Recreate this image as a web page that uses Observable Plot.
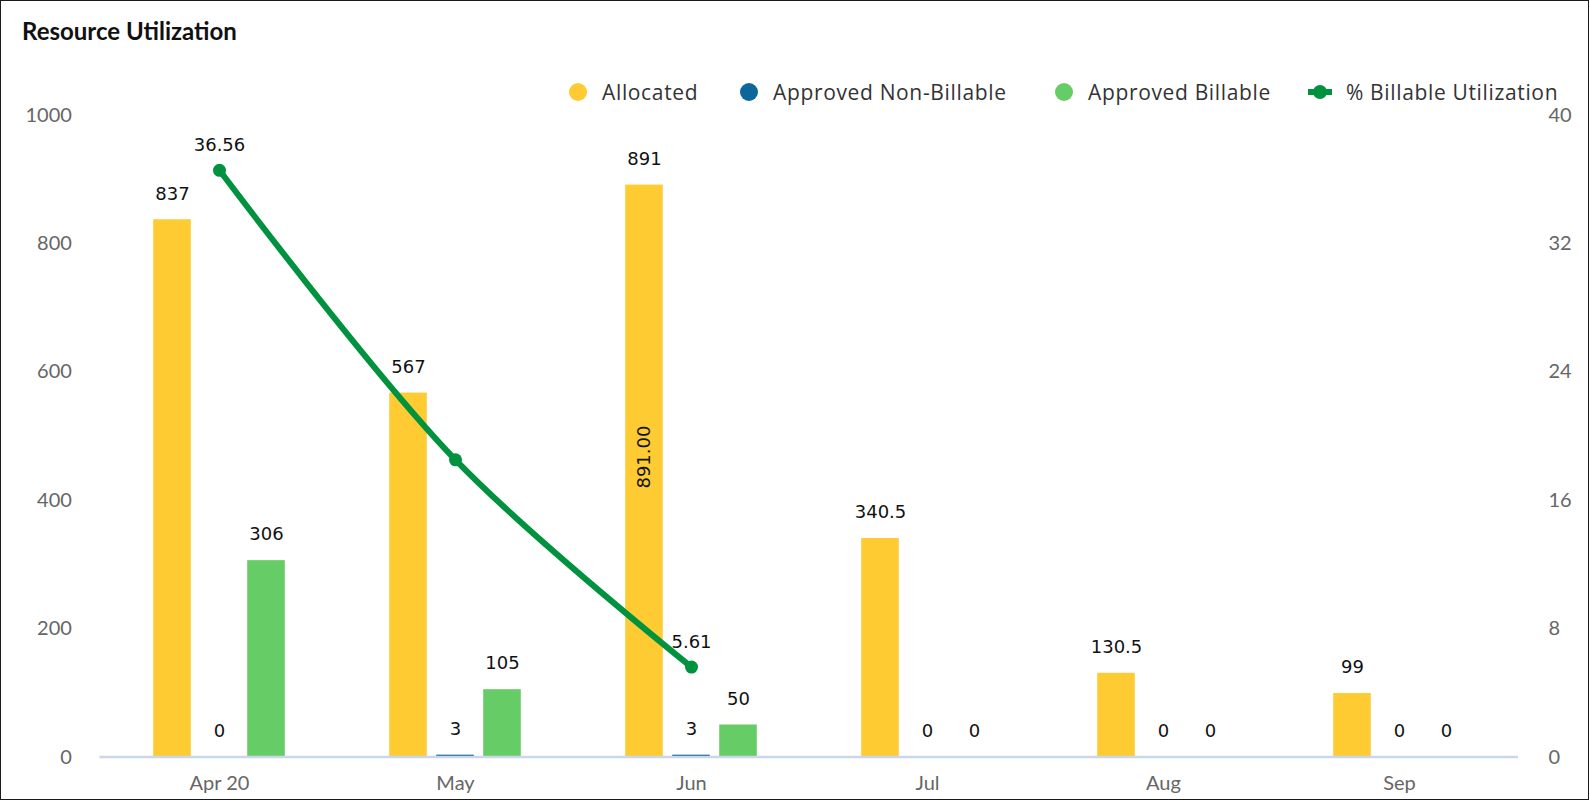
<!DOCTYPE html>
<html>
<head>
<meta charset="utf-8">
<script src="https://cdn.jsdelivr.net/npm/d3@7"></script>
<script src="https://cdn.jsdelivr.net/npm/@observablehq/plot@0.6"></script>
<style>
  body { margin: 0; background: #fff; }
  #card { position: relative; width: 1590px; height: 802px; overflow: hidden; background: #fff; }
  #frame { position: absolute; left: 0; top: 0; width: 1589px; height: 800px; border: 1px solid #1a1a1a; box-sizing: border-box; pointer-events: none; }
  #title { position: absolute; left: 22px; top: 16px; font: bold 24px Lato, sans-serif; color: #111; }
  .item { position: absolute; top: 80px; height: 24px; display: flex; align-items: center; font: 21px "Open Sans", sans-serif; line-height: 1; letter-spacing: 0.65px; color: #333; white-space: nowrap; }
  .item span { line-height: 1; }
  .sw { width: 18px; height: 18px; border-radius: 50%; margin-right: 15px; }
  .lsym { position: relative; width: 24px; height: 18px; margin-right: 14px; }
  .lsym .bar { position: absolute; left: 0; top: 6px; width: 24px; height: 6px; }
  .lsym .dot { position: absolute; left: 5px; top: 2px; width: 14px; height: 14px; border-radius: 50%; }
  #chart { position: absolute; left: 0; top: 0; width: 1590px; }
</style>
</head>
<body>
<div id="card">
  <div id="chart"></div>
  <div id="title">Resource Utilization</div>
  <div id="legend"></div>
  <div id="frame"></div>
</div>
<script>
// ---- data ----
const months = ["Apr 20", "May", "Jun", "Jul", "Aug", "Sep"];
const allocated = [837, 567, 891, 340.5, 130.5, 99];
const approvedNonBillable = [0, 3, 3, 0, 0, 0];
const approvedBillable = [306, 105, 50, 0, 0, 0];
const utilMonths = ["Apr 20", "May", "Jun"];
const billableUtilization = [36.56, 18.52, 5.61];
const hiddenUtilLabels = ["May"];
const insideLabelMonths = ["Jun"];
const leftTicks = [0, 200, 400, 600, 800, 1000];
const rightTicks = [0, 8, 16, 24, 32, 40];
const seriesNames = ["Allocated", "Approved Non-Billable", "Approved Billable", "% Billable Utilization"];
const seriesColors = ["#fecb33", "#0d6699", "#66cc66", "#00923f"];

// ---- layout ----
const W = 1590, H = 802;
const mL = 99.4, mR = 72, mT = 114.6, mB = 45.4;
const bw = (W - mL - mR) / months.length;
const barW = 38;
const inset = (bw - barW) / 2;
const offsets = [-47, 0, 47];
const ratio = leftTicks[leftTicks.length - 1] / rightTicks[rightTicks.length - 1];

const barSeries = [allocated, approvedNonBillable, approvedBillable];
const barData = barSeries.map((vals, i) =>
  months.map((m, j) => ({month: m, series: seriesNames[i], value: vals[j]})));
const utilData = utilMonths.map((m, j) => ({month: m, pct: billableUtilization[j]}));
const insideData = insideLabelMonths.map(m => ({month: m, value: allocated[months.indexOf(m)]}));

const fmt = v => String(v);
const labelFont = {fontFamily: "DejaVu Sans", fontSize: 18, fill: "#111"};
const tickFont = {fontFamily: "Lato", fontSize: 20, fill: "#666"};
const marks = [];
barData.forEach((rows, i) => {
  marks.push(Plot.barY(rows, {x: "month", y: "value", fill: seriesColors[i], insetLeft: inset, insetRight: inset, dx: offsets[i]}));
});
marks.push(Plot.ruleY([0], {stroke: "#ccd6eb", strokeWidth: 2.5}));
barData.forEach((rows, i) => {
  marks.push(Plot.text(rows, {x: "month", y: "value", text: d => fmt(d.value), dx: offsets[i], dy: -26, ...labelFont}));
});
marks.push(Plot.text(insideData, {x: "month", y: d => d.value / 2, text: d => d.value.toFixed(2), dx: offsets[0], dy: -14,
  rotate: -90, ...labelFont}));
marks.push(Plot.line(utilData, {x: "month", y: d => d.pct * ratio, stroke: seriesColors[3], strokeWidth: 6, curve: "catmull-rom"}));
marks.push(Plot.dot(utilData, {x: "month", y: d => d.pct * ratio, r: 6.5, fill: seriesColors[3]}));
marks.push(Plot.text(utilData.filter(d => !hiddenUtilLabels.includes(d.month)), {x: "month", y: d => d.pct * ratio,
  text: d => d.pct.toFixed(2), dy: -25, ...labelFont}));
marks.push(Plot.axisY({anchor: "left", ticks: leftTicks, tickFormat: d => String(d), tickSize: 0, tickPadding: 28,
  textAnchor: "end", ...tickFont, label: null}));
// right-hand axis (percent), drawn as text on the shared y scale
marks.push(Plot.text(rightTicks, {y: d => d * ratio, text: d => String(d), frameAnchor: "right", dx: 30,
  textAnchor: "start", ...tickFont}));
marks.push(Plot.axisX({tickSize: 0, tickPadding: 19, ...tickFont, label: null}));

const chart = Plot.plot({
  width: W, height: H,
  marginLeft: mL, marginRight: mR, marginTop: mT, marginBottom: mB,
  x: {type: "band", domain: months, padding: 0},
  y: {domain: [0, leftTicks[leftTicks.length - 1]]},
  style: {background: "transparent", overflow: "visible", maxWidth: "none"},
  marks
});
document.getElementById("chart").appendChild(chart);

// ---- legend ----
const legendLeft = [569, 740, 1055, 1308];
const legend = document.getElementById("legend");
seriesNames.forEach((name, i) => {
  const item = document.createElement("div");
  item.className = "item";
  item.style.left = legendLeft[i] + "px";
  if (i < 3) {
    item.innerHTML = `<div class="sw" style="background:${seriesColors[i]}"></div><span>${name}</span>`;
  } else {
    item.innerHTML = `<div class="lsym"><div class="bar" style="background:${seriesColors[i]}"></div><div class="dot" style="background:${seriesColors[i]}"></div></div><span>${name}</span>`;
  }
  legend.appendChild(item);
});
</script>
</body>
</html>
